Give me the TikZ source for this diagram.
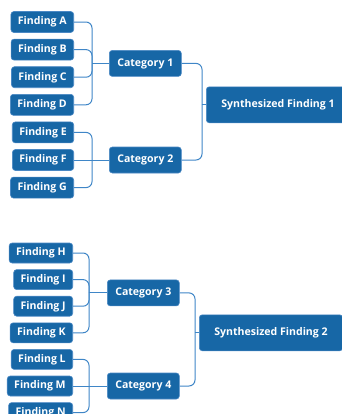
\documentclass[tikz,border=0pt]{standalone}
\usepackage{fontspec}
\setmainfont{Open Sans}
\usepackage{tikz}
\usetikzlibrary{positioning,calc}
\definecolor{boxblue}{HTML}{1767A6}
\definecolor{boxedge}{HTML}{4A88C4}
\definecolor{linkblue}{HTML}{3F86C7}
\tikzstyle{finding} = [rectangle, rounded corners=3bp, fill=boxblue, draw=boxedge, line width=0.6bp, text=white, font=\bfseries\fontsize{10.6}{12}\selectfont, text height=7.8bp, text depth=2.2bp, inner xsep=7bp, minimum height=21bp]
\tikzstyle{category} = [finding, inner xsep=8bp, minimum height=26bp]
\tikzstyle{synth} = [finding, inner xsep=15bp, minimum height=36bp]
\tikzstyle{link} = [draw=linkblue, line width=1bp, rounded corners=6bp]

\begin{document}
\begin{tikzpicture}[x=1bp, y=-1bp, node distance=6bp]

\useasboundingbox (0,0) rectangle (342,414);
\clip (0,0) rectangle (342,414);

% first group
\node [finding, anchor=east] (fa) at (74,22) {Finding A};
\node [finding, below=of fa.south east, anchor=north east] (fb) {Finding B};
\node [finding, below=of fb.south east, anchor=north east] (fc) {Finding C};
\node [finding, below=of fc.south east, anchor=north east] (fd) {Finding D};
\node [finding, below=of fd.south east, anchor=north east] (fe) {Finding E};
\node [finding, below=of fe.south east, anchor=north east] (ff) {Finding F};
\node [finding, below=of ff.south east, anchor=north east] (fg) {Finding G};

\node [category, anchor=west] (c1) at ($(fb.east)!0.5!(fc.east) + (35,0)$) {Category 1};
\node [category, right=35bp of ff] (c2) {Category 2};

\node [synth, anchor=west] (s1) at ($(fd.east) + (132,0)$) {Synthesized Finding 1};

\coordinate (bus1) at ($(c1.west) + (-17,0)$);
\coordinate (bus2) at ($(c2.west) + (-17,0)$);
\coordinate (join1) at ($(s1.west) + (-4,0)$);

\path [link] (fa.east) -| (bus1);
\path [link] (fb.east) -| (bus1);
\path [link] (fc.east) -| (bus1);
\path [link] (fd.east) -| (bus1);
\path [link] (bus1) -- (c1.west);

\path [link] (fe.east) -| (bus2);
\path [link] (ff.east) -- (c2.west);
\path [link] (fg.east) -| (bus2);

\path [link] (c1.east) -| (join1);
\path [link] (c2.east) -| (join1);
\path [link] (join1) -- (s1.west);

% second group
\begin{scope}[finding/.append style={minimum height=20bp}]
\node [finding, anchor=east] (fh) at (73,253) {Finding H};
\node [finding, below=of fh.south east, anchor=north east] (fi) {Finding I};
\node [finding, below=of fi.south east, anchor=north east] (fj) {Finding J};
\node [finding, below=of fj.south east, anchor=north east] (fk) {Finding K};
\node [finding, below=of fk.south east, anchor=north east] (fl) {Finding L};
\node [finding, below=of fl.south east, anchor=north east] (fm) {Finding M};
\node [finding, below=of fm.south east, anchor=north east] (fn) {Finding N};
\end{scope}

\node [category, anchor=west] (c3) at ($(fi.east)!0.5!(fj.east) + (34,0)$) {Category 3};
\node [category, right=34bp of fm] (c4) {Category 4};

\node [synth, anchor=west] (s2) at ($(fk.east) + (126,0)$) {Synthesized Finding 2};

\coordinate (bus3) at ($(c3.west) + (-18,0)$);
\coordinate (bus4) at ($(c4.west) + (-18,0)$);
\coordinate (join2) at ($(s2.west) + (-4,0)$);

\path [link] (fh.east) -| (bus3);
\path [link] (fi.east) -| (bus3);
\path [link] (fj.east) -| (bus3);
\path [link] (fk.east) -| (bus3);
\path [link] (bus3) -- (c3.west);

\path [link] (fl.east) -| (bus4);
\path [link] (fm.east) -- (c4.west);
\path [link] (fn.east) -| (bus4);

\path [link] (c3.east) -| (join2);
\path [link] (c4.east) -| (join2);
\path [link] (join2) -- (s2.west);

\end{tikzpicture}
\end{document}
